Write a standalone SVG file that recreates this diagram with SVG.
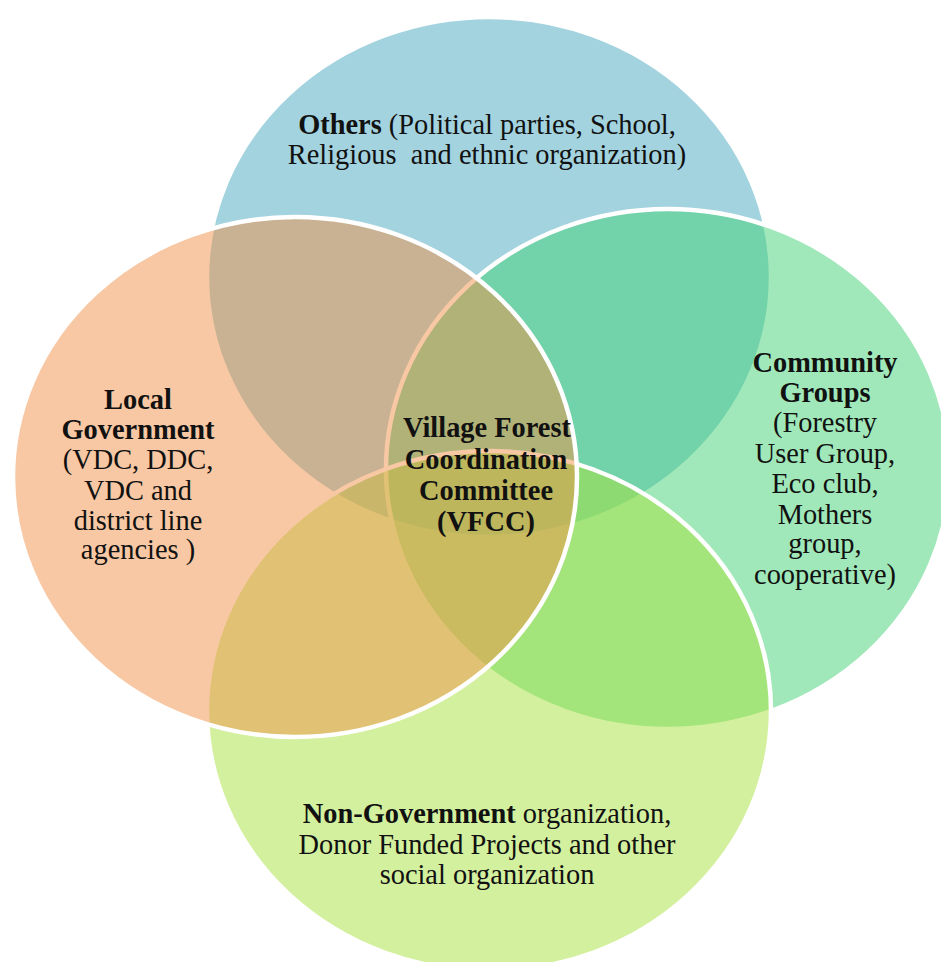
<svg xmlns="http://www.w3.org/2000/svg" width="941" height="962" viewBox="0 0 941 962">
  <style>
    .ring { stroke: #ffffff; stroke-width: 4.5; }
    .blue { fill: rgb(71,167,191); fill-opacity: 0.5; }
    .green { fill: rgb(65,209,115); fill-opacity: 0.5; }
    .lime { fill: rgb(167,225,61); fill-opacity: 0.5; }
    .orange { fill: rgb(239,145,71); fill-opacity: 0.5; }
    text { font-family: "Liberation Serif", "Times New Roman", serif; font-size: 28.4px; fill: #111111; text-anchor: middle; }
    .b { font-weight: bold; }
    .pre { white-space: pre; }
  </style>
  <rect width="941" height="962" fill="#ffffff"/>

  <!-- Others (top) -->
  <g id="others">
    <ellipse class="ring blue" cx="489" cy="277" rx="282" ry="260"/>
    <text x="487" y="134"><tspan class="b">Others</tspan> (Political parties, School,</text>
    <text class="pre" x="487" y="164">Religious  and ethnic organization)</text>
  </g>

  <!-- Community Groups (right) -->
  <g id="community-groups">
    <ellipse class="ring green" cx="668" cy="469" rx="282" ry="260"/>
    <text class="b" x="825" y="372">Community</text>
    <text class="b" x="825" y="402">Groups</text>
    <text x="825" y="432">(Forestry</text>
    <text x="825" y="463">User Group,</text>
    <text x="825" y="493">Eco club,</text>
    <text x="825" y="524">Mothers</text>
    <text x="825" y="553">group,</text>
    <text x="825" y="584">cooperative)</text>
  </g>

  <!-- Non-Government (bottom) -->
  <g id="non-government">
    <ellipse class="ring lime" cx="489" cy="711" rx="282" ry="260"/>
    <text x="487" y="823"><tspan class="b">Non-Government</tspan> organization,</text>
    <text x="487" y="854">Donor Funded Projects and other</text>
    <text x="487" y="884">social organization</text>
  </g>

  <!-- Local Government (left) -->
  <g id="local-government">
    <ellipse class="ring orange" cx="295" cy="477" rx="282" ry="260"/>
    <text class="b" x="138" y="409">Local</text>
    <text class="b" x="138" y="439">Government</text>
    <text x="138" y="469">(VDC, DDC,</text>
    <text x="138" y="500">VDC and</text>
    <text x="138" y="530">district line</text>
    <text x="138" y="559">agencies )</text>
  </g>

  <!-- Village Forest Coordination Committee (centre) -->
  <g id="vfcc">
    <text class="b" x="487" y="437">Village Forest</text>
    <text class="b" x="486" y="469">Coordination</text>
    <text class="b" x="486" y="500">Committee</text>
    <text class="b" x="486" y="531">(VFCC)</text>
  </g>

  <!-- no connectors in this diagram -->
  <g id="connectors"/>
</svg>
